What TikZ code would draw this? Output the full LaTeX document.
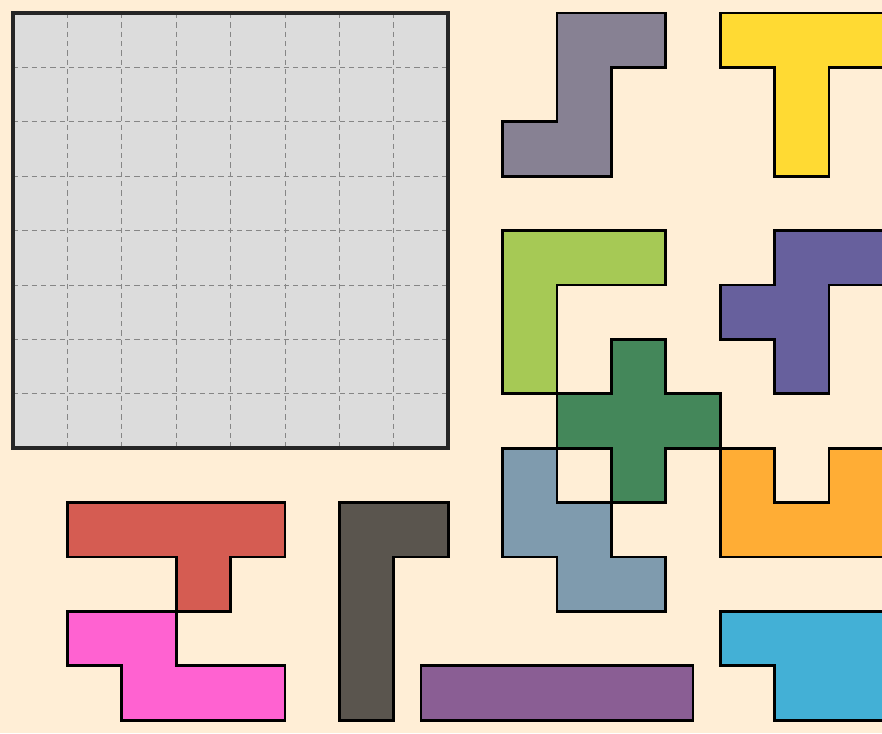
\documentclass[tikz,border=0pt]{standalone}
\definecolor{bg}{HTML}{FFEED6}
\definecolor{gridfill}{HTML}{DCDCDC}
\definecolor{cgray}{HTML}{878193}
\definecolor{cyellow}{HTML}{FFDA33}
\definecolor{clime}{HTML}{A6C955}
\definecolor{cpurple}{HTML}{67609D}
\definecolor{cgreen}{HTML}{44875A}
\definecolor{cbluegray}{HTML}{7F9BAE}
\definecolor{corange}{HTML}{FFAD35}
\definecolor{cred}{HTML}{D55C52}
\definecolor{cmagenta}{HTML}{FF62D1}
\definecolor{cdark}{HTML}{5A554E}
\definecolor{cviolet}{HTML}{8A5E94}
\definecolor{ccyan}{HTML}{43B0D6}
\tikzset{
  piece/.style={draw=black, line width=2.2pt, line join=miter},
  gridline/.style={draw=gray!95, line width=0.75pt, dash pattern=on 4pt off 3pt},
  board/.style={draw=black!85, line width=2.8pt}
}
\begin{document}
\begin{tikzpicture}[x=0.75pt,y=-0.75pt]
\useasboundingbox (0,0) rectangle (882,733);
\fill[bg] (0,0) rectangle (882,733);
\clip (0,0) rectangle (882,733);
\begin{scope}[xshift=9.75pt,yshift=-9.75pt,x=40.8pt,y=-40.8pt]
  % board
  \fill[gridfill] (0,0) rectangle (8,8);
  \foreach \k in {1,...,7} {
    \draw[gridline] (\k,0) -- (\k,8);
    \draw[gridline] (0,\k) -- (8,\k);
  }
  \draw[board] (0,0) rectangle (8,8);
  % pieces
  \draw[piece, fill=cgray] (10,0) -- (12,0) -- (12,1) -- (11,1) -- (11,3) -- (9,3) -- (9,2) -- (10,2) -- cycle;
  \draw[piece, fill=cyellow] (13,0) -- (16.5,0) -- (16.5,1) -- (15,1) -- (15,3) -- (14,3) -- (14,1) -- (13,1) -- cycle;
  \draw[piece, fill=clime] (9,4) -- (12,4) -- (12,5) -- (10,5) -- (10,7) -- (9,7) -- cycle;
  \draw[piece, fill=cpurple] (14,4) -- (16.5,4) -- (16.5,5) -- (15,5) -- (15,7) -- (14,7) -- (14,6) -- (13,6) -- (13,5) -- (14,5) -- cycle;
  \draw[piece, fill=cgreen] (11,6) -- (12,6) -- (12,7) -- (13,7) -- (13,8) -- (12,8) -- (12,9) -- (11,9) -- (11,8) -- (10,8) -- (10,7) -- (11,7) -- cycle;
  \draw[piece, fill=cbluegray] (9,8) -- (10,8) -- (10,9) -- (11,9) -- (11,10) -- (12,10) -- (12,11) -- (10,11) -- (10,10) -- (9,10) -- cycle;
  \draw[piece, fill=corange] (13,8) -- (14,8) -- (14,9) -- (15,9) -- (15,8) -- (16.5,8) -- (16.5,10) -- (13,10) -- cycle;
  \draw[piece, fill=cred] (1,9) -- (5,9) -- (5,10) -- (4,10) -- (4,11) -- (3,11) -- (3,10) -- (1,10) -- cycle;
  \draw[piece, fill=cmagenta] (1,11) -- (3,11) -- (3,12) -- (5,12) -- (5,13) -- (2,13) -- (2,12) -- (1,12) -- cycle;
  \draw[piece, fill=cdark] (6,9) -- (8,9) -- (8,10) -- (7,10) -- (7,13) -- (6,13) -- cycle;
  \draw[piece, fill=cviolet] (7.5,12) rectangle (12.5,13);
  \draw[piece, fill=ccyan] (13,11) -- (16.5,11) -- (16.5,13) -- (14,13) -- (14,12) -- (13,12) -- cycle;
\end{scope}
\end{tikzpicture}
\end{document}
